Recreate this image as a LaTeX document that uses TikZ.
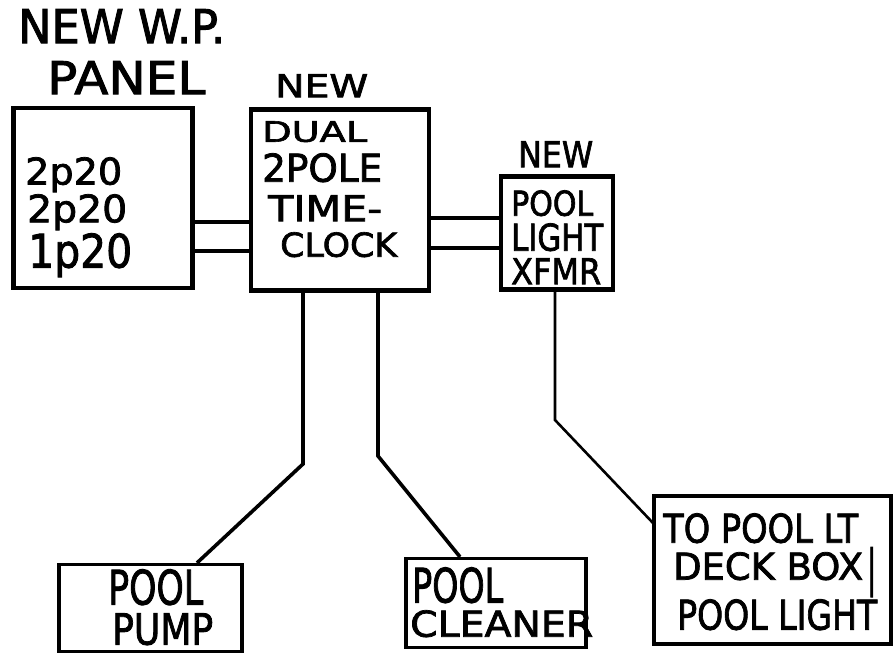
\documentclass[tikz,border=0pt]{standalone}
\usepackage{graphicx}
\usepackage{fontspec}
\setmainfont[FakeBold=2]{DejaVu Sans}
\newcommand{\ft}[3]{\resizebox*{#1pt}{#2pt}{#3}}
\begin{document}
\begin{tikzpicture}[x=1pt,y=-1pt,
 bx/.style={draw=black,line width=4.5pt,inner sep=0pt,anchor=center},
 bxthin/.style={draw=black,line width=3.2pt,inner sep=0pt,anchor=center},
 wire/.style={draw=black,line width=3.6pt},
 thinwire/.style={draw=black,line width=2.6pt},
 lab/.style={text=black,inner sep=0pt,anchor=north west}]
\useasboundingbox (0,0) rectangle (895,657);
\fill[white] (0,0) rectangle (895,657);
\node[bx,minimum width=179pt,minimum height=180pt] (panel) at (103,198) {};
\node[bx,minimum width=178pt,minimum height=181pt] (clock) at (340,200) {};
\node[bx,minimum width=112pt,minimum height=113pt] (xfmr) at (557,233) {};
\node[bxthin,minimum width=183pt,minimum height=87pt] (pump) at (150.5,608) {};
\node[bxthin,minimum width=180pt,minimum height=89pt] (cleaner) at (496,603) {};
\node[bxthin,minimum width=237pt,minimum height=148pt] (deck) at (772.5,570) {};
\draw[wire] (panel.east |- 0,222) -- (clock.west |- 0,222);
\draw[wire] (panel.east |- 0,251) -- (clock.west |- 0,251);
\draw[wire] (clock.east |- 0,218) -- (xfmr.west |- 0,218);
\draw[wire] (clock.east |- 0,248) -- (xfmr.west |- 0,248);
\coordinate (a2) at (303,464); \coordinate (a3) at (197,563);
\draw[wire] (clock.south -| a2) -- (a2) -- (a3 |- pump.north);
\coordinate (b2) at (378,456); \coordinate (b3) at (460,557);
\draw[wire] (clock.south -| b2) -- (b2) -- (b3 |- cleaner.north);
\coordinate (d2) at (555,420); \coordinate (d3) at (653,523);
\draw[thinwire] (xfmr.south -| d2) -- (d2) -- (d3);
\node[lab] (t1) at (18,9) {\ft{207}{34}{NEW W.P.}};
\node[lab] (t2) at (47,61) {\ft{158}{33}{PANEL}};
\node[lab] (t3) at (275,74) {\ft{93}{23}{NEW}};
\node[lab] (t4) at (518,141) {\ft{75}{26}{NEW}};
\node[lab] (l1) at (25,157) {\ft{97}{35}{2p20}};
\node[lab] (l2) at (27,194) {\ft{100}{36}{2p20}};
\node[lab] (l3) at (28,233) {\ft{104}{44}{1p20}};
\node[lab] (c5) at (262,121) {\ft{105}{21}{DUAL}};
\node[lab] (c6) at (262,153) {\ft{120}{29}{2POLE}};
\node[lab] (c7) at (268,195) {\ft{114}{26}{TIME-}};
\node[lab] (c8) at (280,232) {\ft{117}{25}{CLOCK}};
\node[lab] (x5) at (511,190) {\ft{82}{26}{POOL}};
\node[lab] (x6) at (511,223) {\ft{92}{28}{LIGHT}};
\node[lab] (x7) at (511,258) {\ft{90}{26}{XFMR}};
\node[lab] (q1) at (108,569) {\ft{95}{36}{POOL}};
\node[lab] (q2) at (112,613) {\ft{101}{32}{PUMP}};
\node[lab] (q3) at (412,567) {\ft{91}{36}{POOL}};
\node[lab] (q4) at (410,610) {\ft{183}{27}{CLEANER}};
\node[lab] (r1) at (663,513) {\ft{195}{30}{TO POOL LT}};
\node[lab] (r2) at (673,552) {\ft{190}{28}{DECK BOX}};
\node[lab] (r4) at (867,547) {\ft{9}{50}{|}};
\node[lab] (r3) at (677,599) {\ft{200}{31}{POOL LIGHT}};
\end{tikzpicture}
\end{document}
